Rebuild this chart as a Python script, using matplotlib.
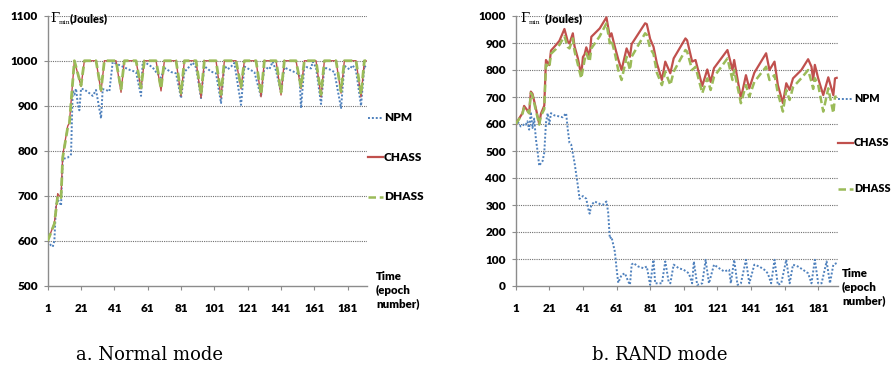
import matplotlib
matplotlib.use("Agg")
import matplotlib.pyplot as plt
from matplotlib.lines import Line2D

# ---- data (epoch, Gamma_min in Joules) ----
# a. Normal mode
npm_a_x = [1, 3, 4, 5, 6, 7, 8, 9, 10, 11, 13, 15, 16, 17, 18, 19, 20, 21, 23, 26, 28, 30, 33, 34, 36, 38,
           40, 43, 46, 50, 54, 57, 58, 60, 62, 64, 66, 69, 71, 75, 78, 81, 83, 86, 88, 90, 93, 95, 99, 102,
           105, 107, 109, 111, 113, 117, 119, 122, 125, 129, 131, 134, 136, 138, 141, 143, 146, 149, 152,
           153, 155, 157, 159, 160, 162, 165, 167, 170, 173, 177, 179, 182, 184, 186, 189, 191, 192]
npm_a_y = [600, 590, 587, 600, 680, 690, 688, 678, 780, 783, 785, 792, 935, 925, 938, 905, 890, 938, 936,
           928, 922, 935, 872, 937, 935, 932, 997, 992, 987, 980, 975, 922, 997, 995, 990, 985, 975, 962,
           984, 975, 972, 917, 975, 987, 996, 985, 917, 988, 976, 972, 906, 989, 981, 987, 995, 902, 987,
           981, 975, 920, 987, 981, 998, 978, 930, 985, 980, 975, 970, 895, 989, 985, 983, 998, 985, 904,
           985, 981, 975, 895, 989, 981, 990, 978, 900, 989, 985]

chass_a_x = [1, 5, 7, 8, 9, 10, 13, 14, 17, 21, 23, 30, 33, 35, 42, 45, 47, 54, 57, 59, 66, 69, 71, 78, 81,
             83, 90, 93, 95, 102, 105, 107, 114, 117, 119, 126, 129, 131, 138, 141, 143, 150, 153, 155,
             162, 165, 167, 174, 177, 179, 186, 189, 191, 192]
chass_a_y = [600, 640, 705, 700, 698, 790, 855, 862, 1000, 943, 1000, 1000, 932, 1000, 1000, 930, 1000,
             1000, 938, 1000, 1000, 933, 1000, 1000, 922, 1000, 1000, 918, 1000, 1000, 918, 1000, 1000,
             938, 1000, 1000, 920, 1000, 1000, 924, 1000, 1000, 938, 1000, 1000, 920, 1000, 1000, 928,
             1000, 1000, 920, 1000, 1000]

dhass_a_x = [1, 5, 7, 8, 9, 10, 13, 14, 17, 21, 23, 30, 33, 35, 42, 45, 47, 54, 57, 59, 66, 69, 71, 78, 81,
             83, 90, 93, 95, 102, 105, 107, 114, 117, 119, 126, 129, 131, 138, 141, 143, 150, 153, 155,
             162, 165, 167, 174, 177, 179, 186, 189, 191, 192]
dhass_a_y = [600, 638, 700, 700, 696, 785, 852, 860, 1000, 945, 1000, 1000, 935, 1000, 1000, 937, 1000,
             1000, 940, 1000, 1000, 938, 1000, 1000, 928, 1000, 1000, 925, 1000, 1000, 925, 1000, 1000,
             942, 1000, 1000, 925, 1000, 1000, 930, 1000, 1000, 942, 1000, 1000, 925, 1000, 1000, 932,
             1000, 1000, 925, 1000, 1000]

# b. RAND mode
npm_b_x = [1, 2, 4, 5, 6, 7, 8, 9, 10, 11, 12, 13, 14, 15, 16, 17, 18, 19, 20, 21, 22, 24, 27, 29, 31, 32,
           33, 34, 36, 38, 39, 41, 43, 44, 45, 46, 48, 51, 53, 55, 56, 57, 58, 60, 61, 62, 64, 66, 68, 69,
           70, 71, 74, 77, 79, 81, 83, 84, 86, 88, 90, 92, 93, 95, 98, 101, 104, 106, 107, 109, 112, 114,
           116, 119, 122, 125, 128, 129, 131, 133, 135, 138, 140, 143, 146, 149, 151, 153, 155, 157, 159,
           162, 164, 166, 169, 172, 175, 177, 179, 181, 183, 186, 188, 190, 192]
npm_b_y = [600, 610, 591, 592, 600, 597, 610, 579, 645, 585, 620, 545, 500, 445, 455, 463, 494, 604, 640,
           600, 640, 632, 628, 625, 640, 579, 530, 524, 457, 371, 323, 333, 323, 290, 268, 300, 313, 304,
           301, 313, 274, 176, 182, 127, 66, 12, 41, 47, 16, 5, 79, 85, 72, 66, 72, 4, 97, 10, 10, 10, 91,
           16, 10, 79, 66, 60, 47, 10, 91, 4, 10, 97, 10, 79, 66, 54, 60, 10, 97, 4, 10, 97, 10, 79, 72,
           60, 47, 10, 97, 4, 10, 97, 10, 79, 72, 60, 47, 10, 97, 10, 10, 91, 10, 79, 85]

chass_b_x = [1, 3, 5, 6, 8, 9, 10, 11, 13, 15, 16, 18, 19, 21, 22, 25, 27, 30, 32, 33, 35, 36, 38, 40, 41,
             42, 43, 45, 46, 51, 55, 57, 58, 60, 62, 64, 67, 69, 70, 78, 79, 81, 83, 85, 88, 90, 93, 95, 102,
             103, 106, 108, 112, 115, 117, 119, 127, 130, 131, 135, 138, 140, 143, 150, 152, 155, 157, 160,
             162, 164, 166, 171, 175, 177, 178, 179, 181, 184, 187, 190, 191, 192]
chass_b_y = [600, 620, 640, 667, 650, 640, 720, 712, 658, 600, 638, 668, 837, 818, 872, 893, 908, 952, 905,
             898, 936, 888, 843, 780, 848, 858, 884, 850, 923, 954, 995, 923, 936, 886, 840, 800, 880, 849,
             896, 973, 970, 915, 886, 825, 763, 831, 788, 843, 917, 910, 831, 837, 741, 802, 756, 807, 874,
             800, 837, 695, 781, 732, 790, 862, 800, 831, 744, 677, 751, 726, 769, 800, 840, 812, 763, 819,
             769, 707, 773, 707, 769, 771]

dhass_b_x = [1, 3, 5, 6, 8, 9, 10, 11, 13, 15, 16, 18, 19, 21, 22, 25, 27, 30, 32, 33, 35, 36, 38, 40, 42,
             43, 45, 46, 51, 55, 57, 58, 60, 62, 64, 67, 69, 70, 78, 79, 81, 83, 85, 88, 90, 93, 95, 102,
             103, 106, 108, 112, 115, 117, 119, 127, 130, 131, 135, 138, 140, 143, 150, 152, 155, 157, 160,
             162, 164, 166, 171, 175, 177, 178, 179, 181, 184, 187, 190, 191, 192]
dhass_b_y = [600, 618, 638, 660, 648, 640, 715, 705, 650, 598, 630, 655, 820, 810, 860, 878, 893, 925, 885,
             880, 917, 870, 820, 769, 837, 862, 831, 880, 925, 973, 899, 911, 862, 800, 763, 849, 800, 849,
             936, 930, 880, 860, 790, 744, 794, 744, 794, 874, 868, 800, 812, 714, 769, 726, 775, 843, 763,
             800, 677, 744, 701, 756, 812, 763, 781, 714, 646, 726, 689, 736, 770, 800, 756, 730, 770, 744,
             646, 732, 640, 701, 701]

series_names = ["NPM", "CHASS", "DHASS"]
x_ticks = [1, 21, 41, 61, 81, 101, 121, 141, 161, 181]
y_ticks_a = [500, 600, 700, 800, 900, 1000, 1100]
y_ticks_b = [0, 100, 200, 300, 400, 500, 600, 700, 800, 900, 1000]
captions = ["a. Normal mode", "b. RAND mode"]

# ---- styling ----
W, H = 891, 372
blue = "#4F81BD"
red = "#C0504D"
green = "#9BBB59"
sans = ["Lato", "DejaVu Sans"]
plt.rcParams["mathtext.fontset"] = "cm"


def fx(px):
    return px / W


def fy(py):
    return 1 - py / H


fig = plt.figure(figsize=(W / 100, H / 100), dpi=100)
fig.patch.set_facecolor("white")

panels = [
    dict(box=(47.7, 15.7, 366.7, 286), xmax=192.4, yt=y_ticks_a,
         data=[(npm_a_x, npm_a_y), (chass_a_x, chass_a_y), (dhass_a_x, dhass_a_y)],
         red_lw=1.0, green_lw=2.0, leg_x=368, leg_len=15, leg_fs=8.5, leg_y=[118, 157, 197],
         time_x=376, time_y=290, gamma_x=50, joules_x=70, cap_x=150),
    dict(box=(515.7, 16, 837.7, 286), xmax=192.6, yt=y_ticks_b,
         data=[(npm_b_x, npm_b_y), (chass_b_x, chass_b_y), (dhass_b_x, dhass_b_y)],
         red_lw=1.6, green_lw=1.8, leg_x=838, leg_len=15, leg_fs=7.8, leg_y=[99, 143, 189],
         time_x=842, time_y=287, gamma_x=520, joules_x=545, cap_x=660),
]

for i, p in enumerate(panels):
    x0, y0, x1, y1 = p["box"]
    ax = fig.add_axes([fx(x0), fy(y1), (x1 - x0) / W, (y1 - y0) / H])
    ax.set_xlim(1, p["xmax"])
    ax.set_ylim(p["yt"][0], p["yt"][-1])

    for v in p["yt"][1:]:
        ax.axhline(v, color="#707070", lw=0.8, ls=(0, (1, 1)), zorder=0)

    (nx, ny), (cx, cy), (dx, dy) = p["data"]
    ax.plot(nx, ny, color=blue, lw=1.4, ls=(0, (1, 1)), zorder=2)
    ax.plot(cx, cy, color=red, lw=p["red_lw"], zorder=3)
    ax.plot(dx, dy, color=green, lw=p["green_lw"], ls=(0, (3, 1.5)), zorder=4)

    for s in ["top", "right"]:
        ax.spines[s].set_visible(False)
    for s in ["left", "bottom"]:
        ax.spines[s].set_color("#8c8c8c")
        ax.spines[s].set_linewidth(1.0)
    ax.set_xticks(x_ticks)
    ax.set_yticks(p["yt"])
    ax.tick_params(axis="both", colors="#8c8c8c", length=3, width=0.8)
    ax.tick_params(axis="x", pad=9)
    ax.tick_params(axis="y", pad=4)
    for lab in ax.get_xticklabels() + ax.get_yticklabels():
        lab.set_fontfamily(sans)
        lab.set_fontweight("heavy")
        lab.set_fontsize(8.5)
        lab.set_color("black")

    # axis title at the top left: Gamma with a small "min" subscript, then "(Joules)"
    gx = p["gamma_x"]
    fig.text(fx(gx), fy(19), "\u0393", fontsize=9.5, family="DejaVu Serif", va="center", ha="left")
    fig.text(fx(gx + 8.5), fy(23), "min", fontsize=4.5, family="DejaVu Serif", va="center", ha="left")
    fig.text(fx(p["joules_x"]), fy(19), "(Joules)", fontsize=8, fontweight="heavy",
             family=sans, va="center", ha="left")

    # legend on the right side
    styles = [(blue, 1.4, (0, (1, 1))), (red, 1.6, "-"), (green, 1.8, (0, (3, 1.5)))]
    lx = p["leg_x"]
    for name, ly, (col, lw, ls) in zip(series_names, p["leg_y"], styles):
        fig.add_artist(Line2D([fx(lx), fx(lx + p["leg_len"])], [fy(ly), fy(ly)],
                              color=col, lw=lw, ls=ls))
        fig.text(fx(lx + p["leg_len"] + 1), fy(ly), name, fontsize=p["leg_fs"],
                 fontweight="heavy", family=sans, va="center", ha="left")

    fig.text(fx(p["time_x"]), fy(p["time_y"]), "Time\n(epoch\nnumber)", fontsize=8.3,
             fontweight="heavy", family=sans, va="center", ha="left", linespacing=1.3)

    fig.text(fx(p["cap_x"]), fy(355), captions[i], fontsize=13, ha="center", va="center",
             family="serif", math_fontfamily="cm")

fig.savefig("out.png", dpi=100)
